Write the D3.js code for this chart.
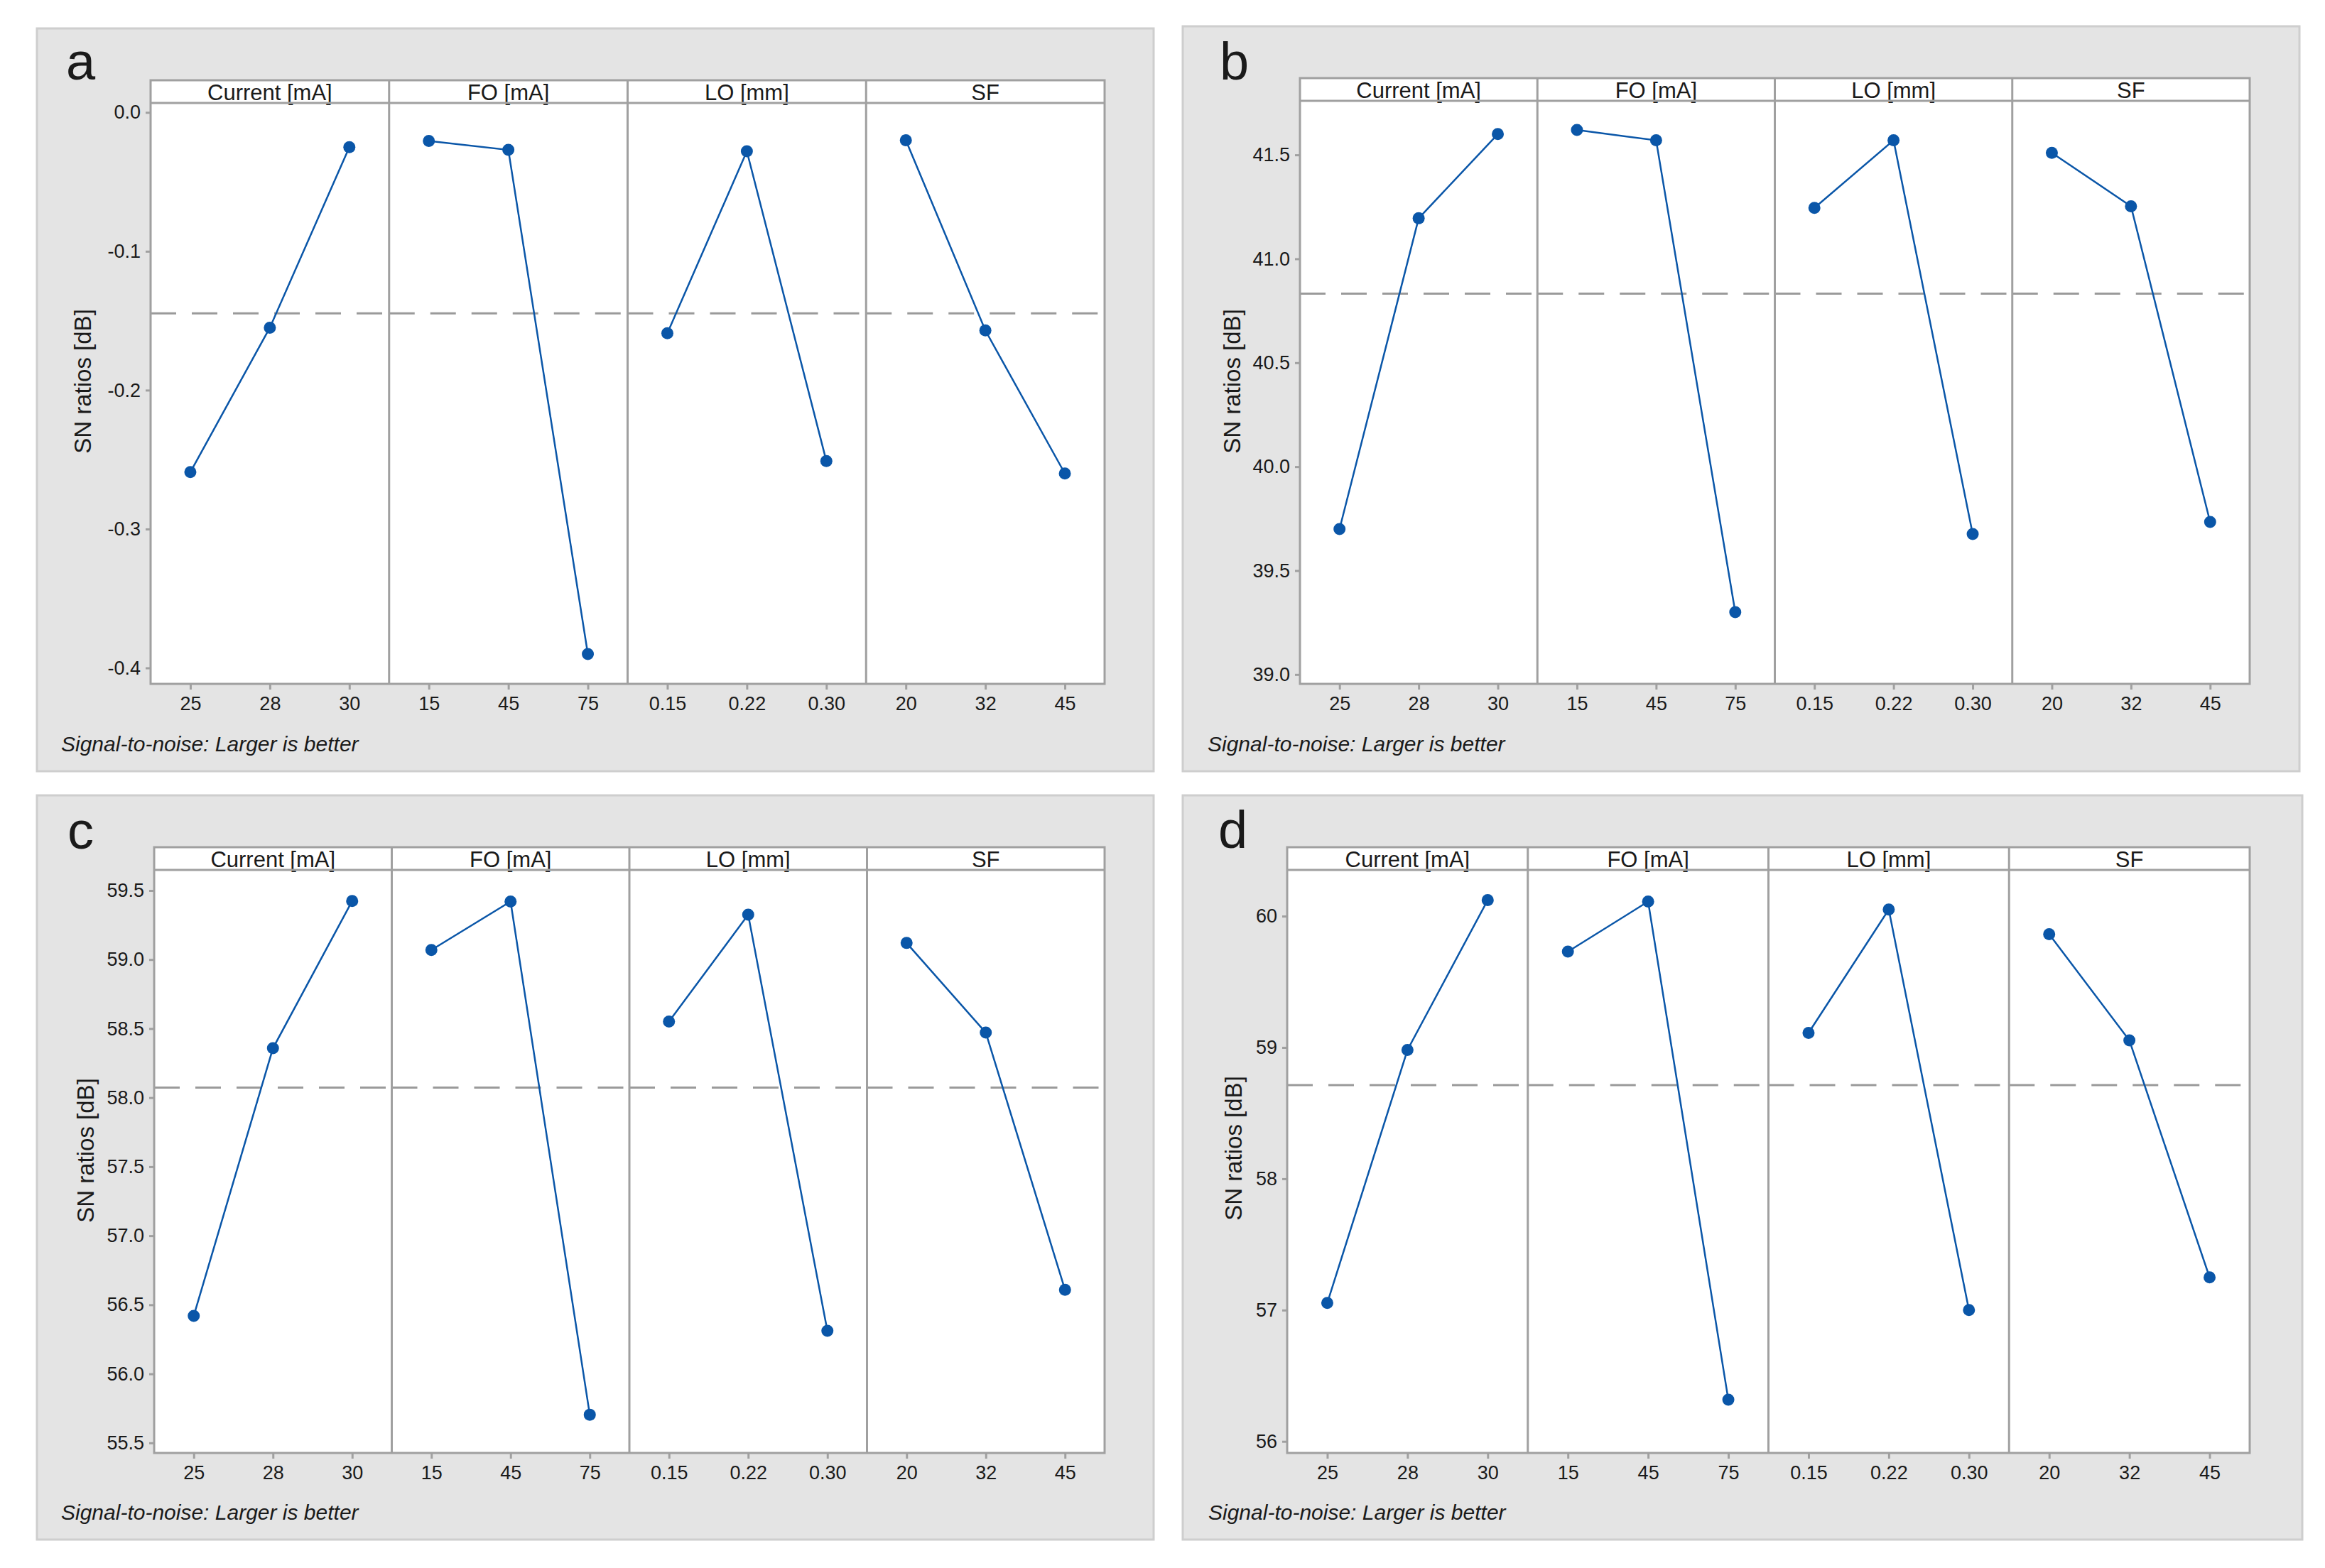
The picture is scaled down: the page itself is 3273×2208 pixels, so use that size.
<!DOCTYPE html>
<html>
<head>
<meta charset="utf-8">
<script src="https://cdn.jsdelivr.net/npm/d3@7"></script>
<style>
  body { margin: 0; background: #fff; }
  text { font-family: "Liberation Sans", Arial, sans-serif; fill: #1a1a1a; }
</style>
</head>
<body>
<svg id="chart" width="3273" height="2208"></svg>
<script>
// Factor names and their levels (same for the four panels).
var factors = ["Current [mA]", "FO [mA]", "LO [mm]", "SF"];
var levels = [["25", "28", "30"], ["15", "45", "75"], ["0.15", "0.22", "0.30"], ["20", "32", "45"]];

// SN ratio means, one row per factor.
var snA = [[-0.259, -0.155, -0.025], [-0.0205, -0.027, -0.390], [-0.159, -0.028, -0.251], [-0.020, -0.157, -0.260]];
var snB = [[39.70, 41.195, 41.60], [41.62, 41.57, 39.30], [41.245, 41.57, 39.676], [41.51, 41.253, 39.734]];
var snC = [[56.42, 58.358, 59.424], [59.069, 59.42, 55.704], [58.551, 59.325, 56.311], [59.12, 58.471, 56.609]];
var snD = [[57.054, 58.981, 60.122], [59.73, 60.111, 56.317], [59.111, 60.05, 57.0], [59.862, 59.054, 57.249]];

// Overall mean (dashed reference line).
var meanA = -0.1447, meanB = 40.832, meanC = 58.073, meanD = 58.713;

// Y tick values.
var ticksA = [0.0, -0.1, -0.2, -0.3, -0.4];
var ticksB = [39.0, 39.5, 40.0, 40.5, 41.0, 41.5];
var ticksC = [55.5, 56.0, 56.5, 57.0, 57.5, 58.0, 58.5, 59.0, 59.5];
var ticksD = [56, 57, 58, 59, 60];

var yTitle = "SN ratios [dB]";
var footNote = "Signal-to-noise: Larger is better";

// Panel layout (pixels).
var panels = [
    {id: "a", sn: snA, mean: meanA, ticks: ticksA, dec: 1, domain: [-0.4115, 0.0068],
        box: [52, 40, 1624, 1086], plot: [212, 145, 1555, 963], strip: 113, label: [93, 112], ytitle: [128, 537], foot: [86, 1058]},
    {id: "b", sn: snB, mean: meanB, ticks: ticksB, dec: 1, domain: [38.955, 41.76],
        box: [1665, 37, 3237, 1086], plot: [1830, 142, 3167, 963], strip: 110, label: [1717, 112], ytitle: [1746, 537], foot: [1700, 1058]},
    {id: "c", sn: snC, mean: meanC, ticks: ticksC, dec: 1, domain: [55.427, 59.649],
        box: [52, 1120, 1624, 2168], plot: [217, 1225, 1555, 2046], strip: 1193, label: [95, 1195], ytitle: [132, 1620], foot: [86, 2140]},
    {id: "d", sn: snD, mean: meanD, ticks: ticksD, dec: 0, domain: [55.912, 60.352],
        box: [1665, 1120, 3241, 2168], plot: [1812, 1225, 3167, 2046], strip: 1193, label: [1715, 1194], ytitle: [1748, 1617], foot: [1701, 2140]}
];

var frameColor = "#a0a0a0";
var blue = "#0a56a8";
var svg = d3.select("#chart");

panels.forEach(function (p) {
    var g = svg.append("g").attr("class", "panel-" + p.id);
    var x0 = p.plot[0], y0 = p.plot[1], x1 = p.plot[2], y1 = p.plot[3];
    var fw = (x1 - x0) / factors.length;

    // Gray background box.
    g.append("rect")
        .attr("x", p.box[0]).attr("y", p.box[1])
        .attr("width", p.box[2] - p.box[0]).attr("height", p.box[3] - p.box[1])
        .attr("fill", "#e4e4e4").attr("stroke", "#cecece").attr("stroke-width", 3);

    // White strip + plot area.
    g.append("rect")
        .attr("x", x0).attr("y", p.strip)
        .attr("width", x1 - x0).attr("height", y1 - p.strip)
        .attr("fill", "#fff");

    var y = d3.scaleLinear().domain(p.domain).range([y1, y0]);

    // Y axis (ticks only, frame drawn below).
    var yAxis = g.append("g")
        .attr("transform", "translate(" + x0 + ",0)")
        .call(d3.axisLeft(y).tickValues(p.ticks).tickSize(7).tickPadding(7)
            .tickFormat(function (v) { return v.toFixed(p.dec); }));
    yAxis.select(".domain").remove();
    yAxis.selectAll(".tick line").attr("stroke", frameColor).attr("stroke-width", 3);
    yAxis.selectAll(".tick text").style("font-size", "27px").attr("fill", "#1a1a1a");

    factors.forEach(function (f, i) {
        var fx0 = x0 + i * fw, fx1 = fx0 + fw;
        var x = d3.scalePoint().domain(levels[i]).range([fx0, fx1]).padding(0.5);

        // Strip label.
        g.append("text")
            .attr("x", (fx0 + fx1) / 2).attr("y", y0 - 4)
            .attr("text-anchor", "middle")
            .style("font-size", "31px")
            .text(f);

        // X axis ticks.
        var xAxis = g.append("g")
            .attr("transform", "translate(0," + y1 + ")")
            .call(d3.axisBottom(x).tickSize(8).tickPadding(10));
        xAxis.select(".domain").remove();
        xAxis.selectAll(".tick line").attr("stroke", frameColor).attr("stroke-width", 3);
        xAxis.selectAll(".tick text").style("font-size", "27px").attr("fill", "#1a1a1a");

        // Mean reference line.
        g.append("line")
            .attr("x1", fx0).attr("x2", fx1)
            .attr("y1", y(p.mean)).attr("y2", y(p.mean))
            .attr("stroke", "#9a9a9a").attr("stroke-width", 3)
            .attr("stroke-dasharray", "36,22");

        var pts = levels[i].map(function (lv, k) { return [x(lv), y(p.sn[i][k])]; });

        g.append("path")
            .attr("d", d3.line()(pts))
            .attr("fill", "none").attr("stroke", blue).attr("stroke-width", 2.5);

        g.selectAll(null)
            .data(pts)
            .enter().append("circle")
            .attr("cx", function (d) { return d[0]; })
            .attr("cy", function (d) { return d[1]; })
            .attr("r", 8.5)
            .attr("fill", blue);

        // Facet divider.
        if (i > 0) {
            g.append("line")
                .attr("x1", fx0).attr("x2", fx0)
                .attr("y1", p.strip).attr("y2", y1)
                .attr("stroke", frameColor).attr("stroke-width", 3);
        }
    });

    // Frame: outer box and strip bottom line.
    g.append("rect")
        .attr("x", x0).attr("y", p.strip)
        .attr("width", x1 - x0).attr("height", y1 - p.strip)
        .attr("fill", "none").attr("stroke", frameColor).attr("stroke-width", 3);
    g.append("line")
        .attr("x1", x0).attr("x2", x1)
        .attr("y1", y0).attr("y2", y0)
        .attr("stroke", frameColor).attr("stroke-width", 3);

    // Panel letter.
    g.append("text")
        .attr("x", p.label[0]).attr("y", p.label[1])
        .style("font-size", "74px")
        .text(p.id);

    // Y title.
    g.append("text")
        .attr("transform", "translate(" + p.ytitle[0] + "," + p.ytitle[1] + ") rotate(-90)")
        .attr("text-anchor", "middle")
        .style("font-size", "33px")
        .text(yTitle);

    // Footnote.
    g.append("text")
        .attr("x", p.foot[0]).attr("y", p.foot[1])
        .style("font-size", "30px")
        .style("font-style", "italic")
        .text(footNote);
});
</script>
</body>
</html>
